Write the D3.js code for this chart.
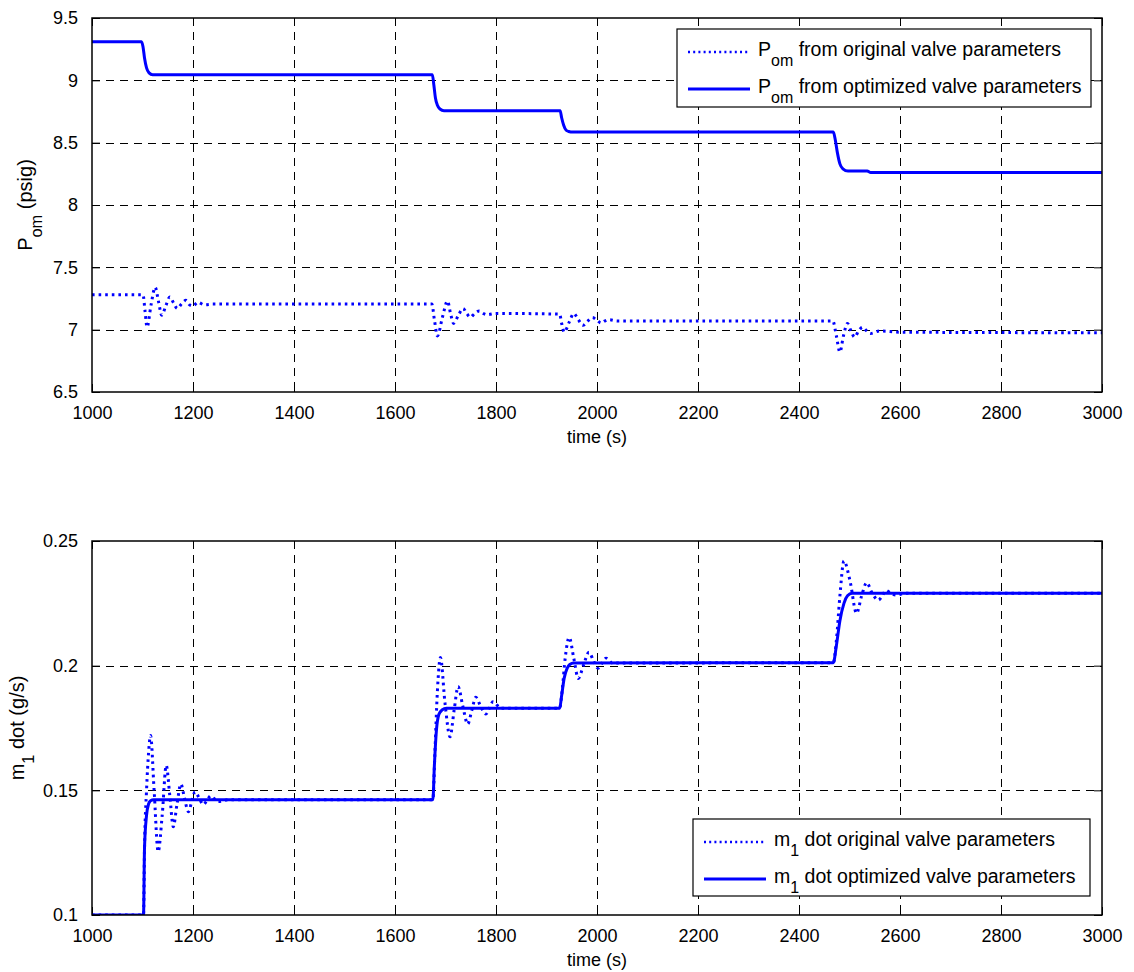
<!DOCTYPE html>
<html>
<head>
<meta charset="utf-8">
<script src="https://cdnjs.cloudflare.com/ajax/libs/d3/7.8.5/d3.min.js"></script>
<style>
  html, body { margin: 0; padding: 0; background: #fff; }
  svg { display: block; font-family: "Liberation Sans", Arial, Helvetica, sans-serif; }
</style>
</head>
<body>
<svg id="chart" width="1134" height="972"></svg>
<script>
// ---- Outlet pressure P_om (psig) ----
const pomOptTime = [1000, 1098, 1101, 1104, 1108, 1113, 1120, 1674, 1677, 1680, 1684, 1689, 1697,
  1927, 1930, 1934, 1939, 1944, 1952, 2468, 2472, 2476, 2481, 2487, 2497, 2535, 2542, 3000];
const pomOptValue = [9.31, 9.31, 9.27, 9.18, 9.10, 9.06, 9.045, 9.045, 8.96, 8.86, 8.80, 8.77, 8.757,
  8.757, 8.70, 8.64, 8.60, 8.59, 8.585, 8.585, 8.52, 8.42, 8.33, 8.29, 8.272, 8.272, 8.26, 8.26];

const pomOrigTime = [1000, 1101, 1105, 1109, 1117, 1125, 1132, 1138, 1146, 1154, 1162, 1169, 1178, 1186,
  1193, 1200, 1210, 1222, 1240, 1673, 1678, 1684, 1694, 1704, 1710, 1716, 1726, 1735, 1742, 1749, 1758,
  1767, 1775, 1782, 1800, 1926, 1930, 1935, 1945, 1954, 1963, 1972, 1982, 1991, 2000, 2008, 2016, 2024,
  2040, 2467, 2474, 2481, 2488, 2496, 2503, 2510, 2518, 2526, 2534, 2542, 2560, 2600, 3000];
const pomOrigValue = [7.28, 7.28, 7.15, 7.02, 7.20, 7.34, 7.22, 7.115, 7.19, 7.262, 7.21, 7.17, 7.21, 7.235,
  7.20, 7.19, 7.22, 7.20, 7.205, 7.205, 7.08, 6.95, 7.10, 7.23, 7.13, 7.05, 7.12, 7.17, 7.13, 7.10, 7.13,
  7.15, 7.13, 7.12, 7.13, 7.125, 7.05, 6.98, 7.06, 7.13, 7.08, 7.035, 7.07, 7.097, 7.075, 7.053, 7.07, 7.08,
  7.07, 7.07, 6.95, 6.82, 6.95, 7.05, 6.99, 6.94, 6.99, 7.02, 6.99, 6.97, 6.99, 6.98, 6.975];

// ---- Mass flow m1 dot (g/s) ----
const m1OptTime = [1000, 1102, 1104, 1108, 1112, 1116, 1122, 1675, 1678, 1682, 1687, 1693, 1702,
  1926, 1930, 1935, 1941, 1946, 1954, 2468, 2474, 2481, 2489, 2496, 2505, 3000];
const m1OptValue = [0.1, 0.1, 0.127, 0.140, 0.1445, 0.1458, 0.1462, 0.1462, 0.160, 0.174, 0.1805, 0.1822, 0.1829,
  0.1829, 0.188, 0.195, 0.199, 0.2005, 0.2011, 0.2012, 0.208, 0.218, 0.225, 0.228, 0.229, 0.229];

const m1OrigTime = [1000, 1102, 1104, 1108, 1112, 1116, 1123, 1131, 1139, 1147, 1154, 1161, 1168, 1176,
  1183, 1191, 1198, 1204, 1212, 1220, 1228, 1235, 1243, 1250, 1270, 1675, 1679, 1684, 1690, 1699, 1709,
  1717, 1725, 1734, 1744, 1752, 1760, 1770, 1780, 1787, 1794, 1810, 1926, 1931, 1937, 1945, 1954, 1963,
  1973, 1984, 1993, 2002, 2010, 2018, 2030, 2468, 2474, 2481, 2489, 2501, 2514, 2524, 2534, 2545, 2557,
  2565, 2572, 2582, 2592, 2610, 3000];
const m1OrigValue = [0.1, 0.1, 0.127, 0.15, 0.165, 0.172, 0.150, 0.1254, 0.140, 0.160, 0.148, 0.1354, 0.144, 0.1525,
  0.147, 0.1414, 0.146, 0.1494, 0.147, 0.1443, 0.146, 0.1478, 0.1465, 0.1455, 0.1462, 0.1462, 0.165, 0.19, 0.2033, 0.185, 0.1715,
  0.182, 0.1916, 0.184, 0.1766, 0.182, 0.1873, 0.1835, 0.1806, 0.183, 0.1855, 0.1829, 0.1829, 0.19, 0.203, 0.2113, 0.203, 0.1949,
  0.200, 0.2054, 0.202, 0.199, 0.201, 0.203, 0.2011, 0.2012, 0.21, 0.228, 0.242, 0.234, 0.221, 0.228, 0.2333, 0.229, 0.2263,
  0.228, 0.2302, 0.229, 0.2283, 0.229, 0.229];

// ---- Tick labels ----
const timeTicks = [1000, 1200, 1400, 1600, 1800, 2000, 2200, 2400, 2600, 2800, 3000];
const pomTicks = [6.5, 7, 7.5, 8, 8.5, 9, 9.5];
const pomTickLabels = ["6.5", "7", "7.5", "8", "8.5", "9", "9.5"];
const m1Ticks = [0.1, 0.15, 0.2, 0.25];
const m1TickLabels = ["0.1", "0.15", "0.2", "0.25"];

const svg = d3.select("#chart");
const BLUE = "#0000ff";
const FONT = 18;
const LABEL_FONT = 20;
const LEGEND_FONT = 19.5;

// writes text made of plain and subscript pieces into a <text> element
function richText(sel, parts, size) {
  parts.forEach(p => {
    const ts = sel.append("tspan").text(p.t);
    if (p.sub) ts.attr("font-size", size * 0.82).attr("dy", size * 0.5);
    else if (p.after) ts.attr("dy", -size * 0.5);
  });
}

function panel(cfg) {
  const { top, bottom, left, right } = cfg;
  const x = d3.scaleLinear().domain([1000, 3000]).range([left, right]);
  const y = d3.scaleLinear().domain(cfg.yDomain).range([bottom, top]);
  const g = svg.append("g");

  // grid
  const gridStyle = s => s.attr("stroke", "#000").attr("stroke-width", 1)
    .attr("stroke-dasharray", "8,6").attr("shape-rendering", "crispEdges");
  timeTicks.slice(1, -1).forEach(t => {
    g.append("line").attr("x1", Math.round(x(t)) + 0.5).attr("x2", Math.round(x(t)) + 0.5)
      .attr("y1", top).attr("y2", bottom).call(gridStyle);
  });
  cfg.yTicks.slice(1, -1).forEach(v => {
    g.append("line").attr("y1", Math.round(y(v)) + 0.5).attr("y2", Math.round(y(v)) + 0.5)
      .attr("x1", left).attr("x2", right).call(gridStyle);
  });

  // axes (ticks pointing inward, mirrored on top and right)
  const ax = g.append("g");
  ax.append("g").attr("transform", `translate(0,${bottom})`)
    .call(d3.axisBottom(x).tickValues(timeTicks).tickSizeInner(-8).tickSizeOuter(0).tickPadding(14).tickFormat(d3.format("d")));
  ax.append("g").attr("transform", `translate(0,${top})`)
    .call(d3.axisTop(x).tickValues(timeTicks).tickSizeInner(-8).tickSizeOuter(0).tickFormat(""));
  ax.append("g").attr("transform", `translate(${left},0)`)
    .call(d3.axisLeft(y).tickValues(cfg.yTicks).tickSizeInner(-8).tickSizeOuter(0).tickPadding(14)
      .tickFormat((d, i) => cfg.yTickLabels[i]));
  ax.append("g").attr("transform", `translate(${right},0)`)
    .call(d3.axisRight(y).tickValues(cfg.yTicks).tickSizeInner(-8).tickSizeOuter(0).tickFormat(""));
  ax.selectAll("path.domain").remove();
  ax.selectAll("g").attr("font-size", null).attr("font-family", null);
  ax.selectAll("text").attr("fill", "#000").attr("font-size", FONT)
    .attr("font-family", "Liberation Sans, Arial, sans-serif");
  ax.selectAll("line").attr("stroke", "#000");

  // data lines
  const clipId = "clip" + cfg.id;
  svg.append("clipPath").attr("id", clipId).append("rect")
    .attr("x", left).attr("y", top).attr("width", right - left).attr("height", bottom - top);
  const line = d3.line().x(d => x(d[0])).y(d => y(d[1])).curve(d3.curveMonotoneX);
  const orig = d3.zip(cfg.origT, cfg.origV);
  const opt = d3.zip(cfg.optT, cfg.optV);
  const lines = g.append("g").attr("clip-path", `url(#${clipId})`);
  lines.append("path").datum(orig).attr("d", line).attr("fill", "none").attr("stroke", BLUE)
    .attr("stroke-width", 3).attr("stroke-dasharray", "2.6,4");
  lines.append("path").datum(opt).attr("d", line).attr("fill", "none").attr("stroke", BLUE)
    .attr("stroke-width", 3);

  // frame
  g.append("rect").attr("x", left).attr("y", top).attr("width", right - left).attr("height", bottom - top)
    .attr("fill", "none").attr("stroke", "#000").attr("stroke-width", 1.5);

  // axis titles
  g.append("text").attr("x", (left + right) / 2).attr("y", bottom + 51).attr("text-anchor", "middle")
    .attr("font-size", FONT).text("time (s)");
  const yl = g.append("text").attr("text-anchor", "middle").attr("font-size", LABEL_FONT)
    .attr("transform", `translate(${cfg.yLabelX},${cfg.yLabelY}) rotate(-90)`);
  richText(yl, cfg.yLabel, LABEL_FONT);

  // legend
  const L = cfg.legend;
  const lg = g.append("g");
  lg.append("rect").attr("x", L.x).attr("y", L.y).attr("width", L.w).attr("height", L.h)
    .attr("fill", "#fff").attr("stroke", "#000").attr("stroke-width", 1.2);
  L.items.forEach((it, i) => {
    const yy = L.y + 23 + i * 37;
    lg.append("line").attr("x1", L.x + 11).attr("x2", L.x + 73).attr("y1", yy).attr("y2", yy)
      .attr("stroke", BLUE).attr("stroke-width", it.dotted ? 2.5 : 3)
      .attr("stroke-dasharray", it.dotted ? "2,3.2" : null);
    const tx = lg.append("text").attr("x", L.x + 81).attr("y", yy + 4).attr("font-size", LEGEND_FONT);
    richText(tx, it.parts, LEGEND_FONT);
  });
}

panel({
  id: "pom", top: 18, bottom: 392, left: 92, right: 1102,
  yDomain: [6.5, 9.5], yTicks: pomTicks, yTickLabels: pomTickLabels,
  origT: pomOrigTime, origV: pomOrigValue, optT: pomOptTime, optV: pomOptValue,
  yLabelX: 32, yLabelY: 205,
  yLabel: [{ t: "P" }, { t: "om", sub: true }, { t: " (psig)", after: true }],
  legend: {
    x: 677, y: 29, w: 414, h: 78,
    items: [
      { dotted: true, parts: [{ t: "P" }, { t: "om", sub: true }, { t: " from original valve parameters", after: true }] },
      { dotted: false, parts: [{ t: "P" }, { t: "om", sub: true }, { t: " from optimized valve parameters", after: true }] }
    ]
  }
});

panel({
  id: "m1", top: 541, bottom: 915, left: 92, right: 1102,
  yDomain: [0.1, 0.25], yTicks: m1Ticks, yTickLabels: m1TickLabels,
  origT: m1OrigTime, origV: m1OrigValue, optT: m1OptTime, optV: m1OptValue,
  yLabelX: 24, yLabelY: 728,
  yLabel: [{ t: "m" }, { t: "1", sub: true }, { t: " dot (g/s)", after: true }],
  legend: {
    x: 693, y: 819, w: 397, h: 77,
    items: [
      { dotted: true, parts: [{ t: "m" }, { t: "1", sub: true }, { t: " dot original valve parameters", after: true }] },
      { dotted: false, parts: [{ t: "m" }, { t: "1", sub: true }, { t: " dot optimized valve parameters", after: true }] }
    ]
  }
});
</script>
</body>
</html>
